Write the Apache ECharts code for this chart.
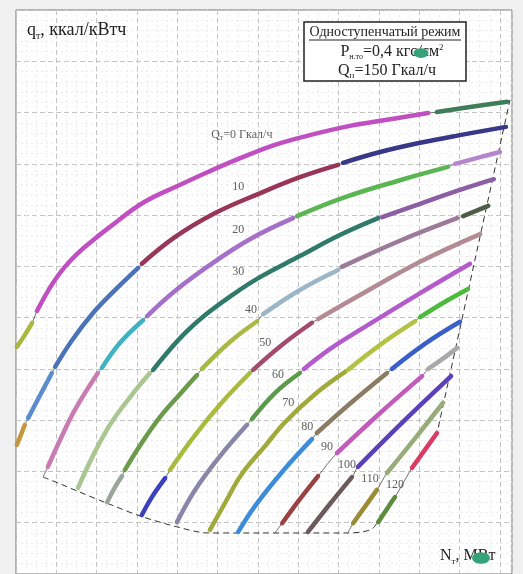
<!DOCTYPE html>
<html>
<head>
<meta charset="utf-8">
<script src="https://cdn.jsdelivr.net/npm/echarts@6/dist/echarts.min.js"></script>
<style>
  html, body { margin: 0; padding: 0; background: #f0f0f0; }
  #chart { width: 523px; height: 574px; }
</style>
</head>
<body>
<div id="chart"></div>
<script>
// Heat-rate lines q_т = f(N_т) at constant heat load Q_т, one-stage heating mode.
// Every line is a list of pieces, every piece a list of [N, q] points in grid units
// (x: 0..123, y: 0..110). Neighbouring pieces are drawn in different colours.

const Q_LEVELS = [0, 10, 20, 30, 40, 50, 60, 70, 80, 90, 100, 110, 120];

const Q0 = [
  [[0.2, 44.3], [2.0, 46.4], [4.0, 49.0]],
  [[5.2, 51.3], [7.2, 54.2], [9.2, 56.8], [11.9, 59.7], [15.1, 62.4], [19.1, 65.1], [23.3, 67.7],
   [31.5, 72.4], [40.7, 75.9], [47.6, 78.4], [55.6, 81.1], [64.2, 83.7], [72.9, 85.6], [82.8, 87.4],
   [92.8, 88.7], [102.2, 89.9]],
  [[104.4, 90.1], [112.6, 91.1], [121.8, 92.1]]
];
const Q10 = [
  [[0.2, 25.2], [1.2, 27.1], [2.2, 29.1]],
  [[3.0, 30.4], [6.0, 34.9], [8.9, 39.2]],
  [[9.7, 40.4], [13.9, 45.6], [19.1, 50.9], [24.6, 55.4], [30.3, 59.7]],
  [[31.2, 60.5], [39.4, 65.7], [49.4, 70.4], [60.0, 74.1], [70.4, 77.4], [79.9, 79.8]],
  [[81.1, 80.2], [90.3, 82.3], [100.2, 84.1], [110.1, 85.6], [121.5, 87.2]]
];
const Q20 = [
  [[7.9, 20.9], [10.9, 26.1], [14.6, 32.0], [20.3, 39.2]],
  [[21.3, 40.2], [25.8, 45.1], [31.5, 49.5]],
  [[32.5, 50.3], [39.4, 55.2], [48.1, 60.3], [58.0, 65.3], [68.7, 69.4]],
  [[69.7, 69.8], [81.6, 73.5], [95.2, 76.8], [107.1, 79.4]],
  [[108.9, 80.0], [115.1, 81.3], [120.0, 82.3]]
];
const Q30 = [
  [[15.4, 16.8], [18.8, 22.6], [23.3, 29.1], [28.3, 34.5], [33.2, 39.2]],
  [[34.0, 39.8], [40.7, 46.0], [46.9, 50.5], [53.6, 54.4], [60.5, 57.9], [70.4, 62.0], [80.3, 66.1], [89.8, 69.4]],
  [[90.8, 69.6], [100.2, 72.2], [110.1, 74.9], [118.5, 77.0]]
];
const Q40 = [
  [[22.6, 14.0], [24.6, 17.0], [26.3, 19.1]],
  [[27.0, 20.3], [31.2, 25.6], [35.7, 30.6], [40.7, 35.1], [44.9, 38.8]],
  [[46.1, 40.0], [53.1, 45.3], [59.8, 49.3]],
  [[61.3, 50.7], [70.4, 55.4], [79.9, 59.3]],
  [[80.8, 59.9], [95.2, 65.0], [109.4, 69.4]],
  [[110.9, 69.8], [117.1, 71.8]]
];
const Q50 = [
  [[31.2, 11.5], [33.7, 15.0], [37.0, 18.7]],
  [[38.2, 20.3], [44.4, 27.1], [51.1, 33.5], [58.0, 39.2]],
  [[58.8, 39.8], [66.0, 44.7], [73.4, 49.0]],
  [[74.9, 49.7], [85.3, 54.4], [100.2, 60.9], [115.1, 66.3]]
];
const Q60 = [
  [[39.9, 10.1], [44.4, 16.4], [50.6, 23.0], [57.3, 29.1]],
  [[58.5, 30.2], [64.2, 35.3], [70.4, 39.2]],
  [[71.4, 40.0], [77.9, 43.9], [85.3, 47.6], [99.0, 54.2], [112.6, 60.5]]
];
const Q70 = [
  [[48.1, 8.6], [51.8, 13.8], [56.0, 19.5], [61.8, 25.0], [66.7, 29.6], [74.2, 35.1], [81.6, 39.4]],
  [[82.3, 39.8], [90.3, 44.7], [99.0, 49.3]],
  [[100.2, 50.1], [106.4, 53.1], [112.1, 55.6]]
];
const Q80 = [
  [[55.1, 8.2], [59.3, 13.3], [66.2, 20.1], [73.4, 26.3]],
  [[74.6, 27.5], [82.8, 33.2], [92.0, 39.2]],
  [[93.2, 40.0], [101.4, 44.9], [110.1, 49.2]]
];
const Q90 = [
  [[66.0, 9.9], [70.4, 14.6], [74.9, 19.1]],
  [[79.6, 23.6], [90.3, 31.4], [100.7, 38.6]],
  [[102.2, 40.0], [106.4, 42.3], [109.4, 44.1]]
];
const Q100 = [
  [[72.4, 8.2], [77.9, 13.7], [83.3, 18.9]],
  [[84.8, 20.9], [95.2, 29.1], [107.9, 38.6]]
];
const Q110 = [
  [[83.6, 9.9], [86.5, 13.1], [89.5, 16.4]],
  [[92.0, 19.7], [99.0, 26.5], [105.9, 33.4]]
];
const Q120 = [
  [[89.8, 10.1], [92.0, 12.7], [94.0, 15.0]],
  [[98.2, 20.7], [101.4, 24.2], [104.4, 27.5]]
];

// Points where a line meets the lower boundary through a thin lead
const FOOT_Q20 = [6.7, 18.9];
const FOOT_Q90 = [64.2, 8.0];
const FOOT_Q110 = [82.3, 8.0];

// Dashed limits of the operating field
const BOTTOM_EDGE = [[6.7, 18.9], [10.9, 17.6], [15.1, 16.2], [22.6, 13.8], [30.8, 11.3], [39.9, 9.2],
                     [47.6, 8.0], [60.5, 8.0], [82.3, 8.0], [85.8, 8.2], [88.3, 8.8], [89.5, 9.9]];
const RIGHT_EDGE = [[104.2, 26.7], [122.5, 92.5]];

// Where the Q_т captions sit
const LABEL_N = [56.0, 55.1, 55.1, 55.1, 58.3, 61.8, 65.0, 67.5, 72.2, 77.1, 82.1, 87.8, 94.0];
const LABEL_Q = [85.6, 75.5, 67.1, 58.9, 51.5, 45.1, 38.8, 33.4, 28.7, 24.8, 21.3, 18.5, 17.4];

// ---- styling ----
const CURVES = [Q0, Q10, Q20, Q30, Q40, Q50, Q60, Q70, Q80, Q90, Q100, Q110, Q120];
const FEET = { 20: FOOT_Q20, 90: FOOT_Q90, 110: FOOT_Q110 };
const PIECE_COLORS = {
  0:   ['#a9b83f', '#c04fc2', '#3f7d58'],
  10:  ['#c4963f', '#5b8dcc', '#4a73ba', '#98365a', '#383788'],
  20:  ['#c97bb2', '#3fb3c2', '#a570c9', '#5ab552', '#b487cc'],
  30:  ['#a9c693', '#2f7a6a', '#8c5ea4'],
  40:  ['#9aa69b', '#6b9a4a', '#a9ba44', '#9bb6c6', '#9c7a99', '#4f5d47'],
  50:  ['#3b41b8', '#a9bb3f', '#a24b6c', '#b38b95'],
  60:  ['#8986a9', '#5b9a4a', '#b35bcb'],
  70:  ['#a2a93b', '#b3c242', '#4cba3c'],
  80:  ['#3c8cd9', '#8b7b62', '#3b5fca'],
  90:  ['#9a4242', '#c25bb9', '#a9a9a9'],
  100: ['#6b5b5d', '#5b41b9'],
  110: ['#9b8b33', '#9aab7a'],
  120: ['#5b8b3b', '#d93b63']
};
const SERIF = '"Liberation Serif", "DejaVu Serif", serif';

const series = [];
CURVES.forEach((pieces, i) => {
  const q = Q_LEVELS[i];
  const whole = (FEET[q] ? [FEET[q]] : []).concat(...pieces);
  // thin pencil line under the coloured pieces
  series.push({
    type: 'line', data: whole, smooth: 0.3, symbol: 'none', silent: true, z: 2,
    lineStyle: { color: '#4a4a4a', width: 0.8 }
  });
  pieces.forEach((pts, j) => {
    series.push({
      type: 'line', data: pts, smooth: 0.4, symbol: 'none', silent: true, z: 3,
      lineStyle: { color: PIECE_COLORS[q][j], width: 4.5, cap: 'round' }
    });
  });
});

series.push({
  type: 'line', data: BOTTOM_EDGE, smooth: 0.3, symbol: 'none', silent: true, z: 2,
  lineStyle: { color: '#333', width: 1, type: [6, 4] }
});
series.push({
  type: 'line', data: RIGHT_EDGE, symbol: 'none', silent: true, z: 2,
  lineStyle: { color: '#333', width: 1, type: [6, 4] }
});

series.push({
  type: 'scatter', z: 5, silent: true, symbolSize: 1,
  itemStyle: { color: 'rgba(0,0,0,0)' },
  data: LABEL_N.map((n, i) => [n, LABEL_Q[i], Q_LEVELS[i]]),
  label: {
    show: true, position: 'inside',
    fontFamily: SERIF, fontSize: 12, color: '#333',
    formatter: p => p.value[2] === 0 ? '{t|Q}{s|т}{t|=0 Гкал/ч}' : String(p.value[2]),
    rich: {
      t: { fontFamily: SERIF, fontSize: 12, color: '#333', lineHeight: 14 },
      s: { fontFamily: SERIF, fontSize: 8, color: '#333', lineHeight: 6, verticalAlign: 'bottom' }
    }
  }
});

const txt = { fontFamily: SERIF, fill: '#222' };

const chart = echarts.init(document.getElementById('chart'), null, { renderer: 'canvas' });
chart.setOption({
  animation: false,
  backgroundColor: '#f0f0f0',
  grid: {
    left: 16, right: 11, top: 10, bottom: 0,
    show: true, backgroundColor: '#ffffff', borderColor: '#777', borderWidth: 1
  },
  xAxis: {
    type: 'value', min: 0, max: 123, interval: 10,
    axisLine: { show: false }, axisTick: { show: false }, axisLabel: { show: false },
    splitLine: { show: true, lineStyle: { color: '#c4c4c4', width: 1, type: [5, 3] } },
    minorTick: { show: false, splitNumber: 4 },
    minorSplitLine: { show: true, lineStyle: { color: '#ebebeb', width: 1, type: [2, 3] } }
  },
  yAxis: {
    type: 'value', min: 0, max: 110, interval: 10,
    axisLine: { show: false }, axisTick: { show: false }, axisLabel: { show: false },
    splitLine: { show: true, lineStyle: { color: '#c4c4c4', width: 1, type: [5, 3] } },
    minorTick: { show: false, splitNumber: 5 },
    minorSplitLine: { show: true, lineStyle: { color: '#ebebeb', width: 1, type: [2, 3] } }
  },
  series: series,
  graphic: [
    {
      type: 'text', left: 27, top: 21, z: 10,
      style: {
        text: '{a|q}{b|т}{a|, ккал/кВтч}',
        rich: {
          a: { ...txt, fontSize: 18, lineHeight: 22 },
          b: { ...txt, fontSize: 10, lineHeight: 8, verticalAlign: 'bottom' }
        }
      }
    },
    {
      type: 'rect', z: 10,
      shape: { x: 304, y: 22, width: 162, height: 59 },
      style: { fill: '#fff', stroke: '#222', lineWidth: 1.5 }
    },
    {
      type: 'text', z: 11, x: 385, y: 32,
      style: { ...txt, text: 'Одноступенчатый режим', fontSize: 14, align: 'center', verticalAlign: 'middle' }
    },
    {
      type: 'line', z: 11,
      shape: { x1: 309, y1: 40, x2: 461, y2: 40 },
      style: { stroke: '#222', lineWidth: 1 }
    },
    {
      type: 'text', z: 11, x: 392, y: 52,
      style: {
        text: '{a|P}{b|н.то}{a|=0,4 кгс/см}{c|2}', align: 'center', verticalAlign: 'middle',
        rich: {
          a: { ...txt, fontSize: 16, lineHeight: 18 },
          b: { ...txt, fontSize: 8, lineHeight: 6, verticalAlign: 'bottom' },
          c: { ...txt, fontSize: 9, lineHeight: 8, verticalAlign: 'top' }
        }
      }
    },
    {
      type: 'text', z: 11, x: 387, y: 71,
      style: {
        text: '{a|Q}{b|п}{a|=150 Гкал/ч}', align: 'center', verticalAlign: 'middle',
        rich: {
          a: { ...txt, fontSize: 16, lineHeight: 18 },
          b: { ...txt, fontSize: 9, lineHeight: 6, verticalAlign: 'bottom' }
        }
      }
    },
    {
      type: 'circle', z: 12, x: 421, y: 53, scaleY: 0.65,
      shape: { cx: 0, cy: 0, r: 7.5 },
      style: { fill: '#35a27a' }
    },
    {
      type: 'text', left: 440, top: 548, z: 10,
      style: {
        text: '{a|N}{b|т}{a|, МВт}',
        rich: {
          a: { ...txt, fontSize: 16, lineHeight: 20 },
          b: { ...txt, fontSize: 9, lineHeight: 6, verticalAlign: 'bottom' }
        }
      }
    },
    {
      type: 'circle', z: 12, x: 481, y: 558, scaleY: 0.65,
      shape: { cx: 0, cy: 0, r: 9 },
      style: { fill: '#35a27a' }
    }
  ]
});
</script>
</body>
</html>
